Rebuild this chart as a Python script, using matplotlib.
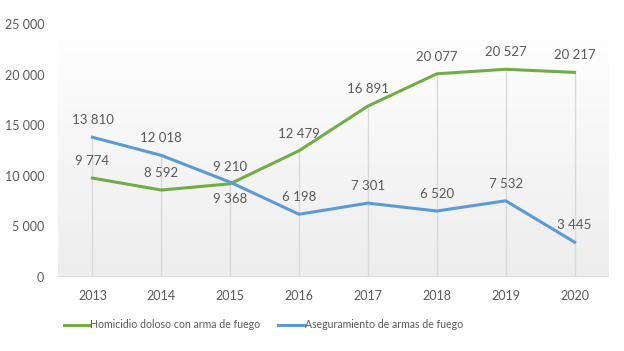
import numpy as np
import matplotlib.pyplot as plt

# Datos
years = ["2013", "2014", "2015", "2016", "2017", "2018", "2019", "2020"]
homicidio = [9774, 8592, 9210, 12479, 16891, 20077, 20527, 20217]
aseguramiento = [13810, 12018, 9368, 6198, 7301, 6520, 7532, 3445]
yticks = [0, 5000, 10000, 15000, 20000, 25000]

green = "#70AD47"
blue = "#5B9BD5"
txt = "#595959"
grid = "#D9D9D9"

plt.rcParams["font.family"] = ["Lato", "DejaVu Sans"]


def fmt(v):
    return f"{v:,}".replace(",", " ")


fig = plt.figure(figsize=(6.24, 3.51), dpi=100)
ax = fig.add_axes([58 / 624, 1 - 277 / 351, 551 / 624, 253 / 351])

x = np.arange(len(years))

# fondo degradado
grad = np.linspace(1, 0, 256).reshape(-1, 1)
ax.imshow(grad, extent=[0, 1, 0, 1], transform=ax.transAxes, aspect="auto",
          cmap=plt.matplotlib.colors.LinearSegmentedColormap.from_list(
              "g", ["#EDEDED", "#FFFFFF"]), zorder=0)

# lineas de caida
tops = np.maximum(homicidio, aseguramiento)
ax.vlines(x, 0, tops, color=grid, lw=1, zorder=1)
ax.axhline(0, color=grid, lw=1.2, zorder=1)

ax.plot(x, homicidio, color=green, lw=2.2, zorder=3,
        label="Homicidio doloso con arma de fuego")
ax.plot(x, aseguramiento, color=blue, lw=2.2, zorder=3,
        label="Aseguramiento de armas de fuego")

for i, v in enumerate(homicidio):
    ax.annotate(fmt(v), (x[i], v), xytext=(0, 8), textcoords="offset points",
                ha="center", va="bottom", fontsize=9.5, color=txt)
for i, v in enumerate(aseguramiento):
    dy = -8 if years[i] == "2015" else 8
    ax.annotate(fmt(v), (x[i], v), xytext=(0, dy), textcoords="offset points",
                ha="center", va="top" if dy < 0 else "bottom",
                fontsize=9.5, color=txt)

ax.set_xlim(-0.5, len(years) - 0.5)
ax.set_ylim(0, 25000)
ax.set_xticks(x)
ax.set_xticklabels(years)
ax.set_yticks(yticks)
ax.set_yticklabels([fmt(t) for t in yticks])
ax.tick_params(length=0, labelsize=9, colors=txt)
ax.tick_params(axis="x", pad=9)
ax.tick_params(axis="y", pad=10)
for s in ax.spines.values():
    s.set_visible(False)

leg = fig.legend(loc="center left", ncol=2, frameon=False, fontsize=7.6,
                 bbox_to_anchor=(64 / 624, 1 - 325 / 351), borderpad=0,
                 borderaxespad=0, handlelength=2.4,
                 handletextpad=0.1, columnspacing=1.7)
for t in leg.get_texts():
    t.set_color(txt)

fig.savefig("out.png", dpi=100)
